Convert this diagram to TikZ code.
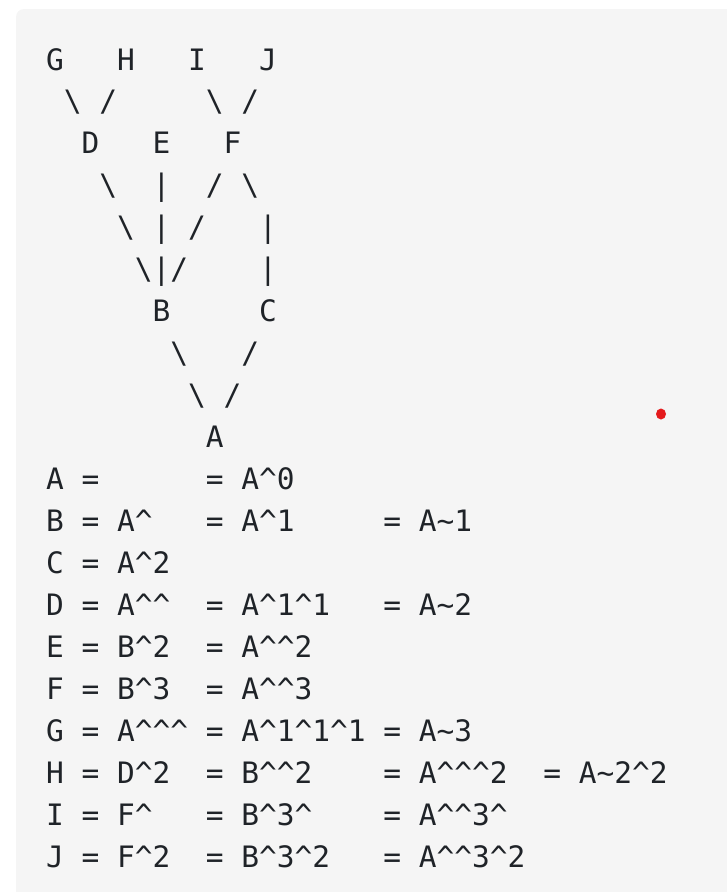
\documentclass[tikz,border=0pt]{standalone}
\usepackage{fontspec}
\newfontfamily\mono{DejaVu Sans Mono}
\definecolor{codebg}{RGB}{245,245,245}
\definecolor{codefg}{RGB}{31,35,40}
\definecolor{dotred}{RGB}{228,26,28}
\newlength\cw
\setlength\cw{17.76pt}
\newcommand\bs{\textbackslash}
\newcommand\ca{\textasciicircum}
\newcommand\ti{\textasciitilde}
\newcommand\vb{\textbar}
\newcommand\sk[1]{\hspace*{#1\cw}}
\tikzset{
  codeline/.style={anchor=base west, inner sep=0pt, outer sep=0pt, text=codefg,
    font=\mono\fontsize{29.5}{35}\selectfont},
}
\begin{document}
\begin{tikzpicture}[x=1pt,y=-1pt]
\useasboundingbox (0,0) rectangle (727,892);
\clip (0,0) rectangle (727,892);
\fill[codebg, rounded corners=8pt] (16,9) rectangle (780,950);
\fill[dotred] (661,414) ellipse [x radius=5pt, y radius=5.5pt];
\def\lx{46}
\node[codeline] (r0)  at (\lx, 70.00) {G\sk{3}H\sk{3}I\sk{3}J};
\node[codeline] (r1)  at (\lx,111.95) {\sk{1}\bs\sk{1}/\sk{5}\bs\sk{1}/};
\node[codeline] (r2)  at (\lx,153.90) {\sk{2}D\sk{3}E\sk{3}F};
\node[codeline] (r3)  at (\lx,195.85) {\sk{3}\bs\sk{2}\vb\sk{2}/\sk{1}\bs};
\node[codeline] (r4)  at (\lx,237.80) {\sk{4}\bs\sk{1}\vb\sk{1}/\sk{3}\vb};
\node[codeline] (r5)  at (\lx,279.75) {\sk{5}\bs\vb/\sk{4}\vb};
\node[codeline] (r6)  at (\lx,321.70) {\sk{6}B\sk{5}C};
\node[codeline] (r7)  at (\lx,363.65) {\sk{7}\bs\sk{3}/};
\node[codeline] (r8)  at (\lx,405.60) {\sk{8}\bs\sk{1}/};
\node[codeline] (r9)  at (\lx,447.55) {\sk{9}A};
\node[codeline] (r10) at (\lx,489.50) {A\sk{1}=\sk{6}=\sk{1}A\ca{}0};
\node[codeline] (r11) at (\lx,531.45) {B\sk{1}=\sk{1}A\ca\sk{3}=\sk{1}A\ca{}1\sk{5}=\sk{1}A\ti{}1};
\node[codeline] (r12) at (\lx,573.40) {C\sk{1}=\sk{1}A\ca{}2};
\node[codeline] (r13) at (\lx,615.35) {D\sk{1}=\sk{1}A\ca\ca\sk{2}=\sk{1}A\ca{}1\ca{}1\sk{3}=\sk{1}A\ti{}2};
\node[codeline] (r14) at (\lx,657.30) {E\sk{1}=\sk{1}B\ca{}2\sk{2}=\sk{1}A\ca\ca{}2};
\node[codeline] (r15) at (\lx,699.25) {F\sk{1}=\sk{1}B\ca{}3\sk{2}=\sk{1}A\ca\ca{}3};
\node[codeline] (r16) at (\lx,741.20) {G\sk{1}=\sk{1}A\ca\ca\ca\sk{1}=\sk{1}A\ca{}1\ca{}1\ca{}1\sk{1}=\sk{1}A\ti{}3};
\node[codeline] (r17) at (\lx,783.15) {H\sk{1}=\sk{1}D\ca{}2\sk{2}=\sk{1}B\ca\ca{}2\sk{4}=\sk{1}A\ca\ca\ca{}2\sk{2}=\sk{1}A\ti{}2\ca{}2};
\node[codeline] (r18) at (\lx,825.10) {I\sk{1}=\sk{1}F\ca\sk{3}=\sk{1}B\ca{}3\ca\sk{4}=\sk{1}A\ca\ca{}3\ca};
\node[codeline] (r19) at (\lx,867.05) {J\sk{1}=\sk{1}F\ca{}2\sk{2}=\sk{1}B\ca{}3\ca{}2\sk{3}=\sk{1}A\ca\ca{}3\ca{}2};
\end{tikzpicture}
\end{document}
